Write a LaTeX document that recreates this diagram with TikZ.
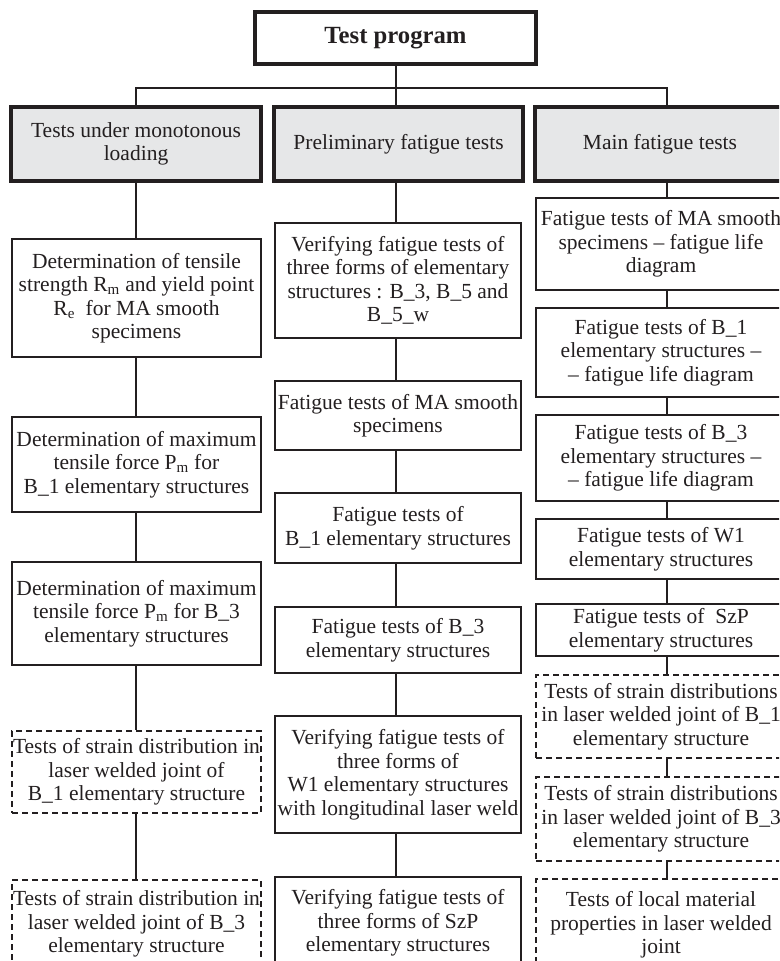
\documentclass[tikz,border=0pt]{standalone}
\usepackage{fontspec}
\setmainfont{Liberation Serif}
\definecolor{ink}{HTML}{231F20}
\definecolor{headgray}{HTML}{E6E7E8}
\newcommand\mybodyfont{\fontsize{21.5}{23.5}\selectfont}
\newcommand\mytitlefont{\fontsize{24.7}{27}\selectfont\bfseries}
\begin{document}
\begin{tikzpicture}[x=1pt,y=-1pt,
  box/.style={draw=ink, text=ink, line width=1.3pt, inner sep=0pt, align=center, font=\mybodyfont},
  dbox/.style={box, dash pattern=on 6pt off 4pt},
  head/.style={box, line width=3.2pt, fill=headgray},
  titlebox/.style={head, fill=white, font=\mytitlefont},
  conn/.style={draw=ink, line width=1.3pt}]
\useasboundingbox (0,0) rectangle (779,961);
\fill[white] (0,0) rectangle (779,961);
\clip (0,0) rectangle (779,961);

% column connector abscissas
\coordinate (xa) at (136,0);
\coordinate (xb) at (396,0);
\coordinate (xc) at (667,0);
\coordinate (bus) at (0,88);

\node[titlebox, minimum width=281pt, minimum height=52pt] (title) at (395.5,38) {Test program};

\node[head, minimum width=250pt, minimum height=74pt] (H1) at (136,144) {Tests under monotonous\\ loading};
\node[head, minimum width=249pt, minimum height=74pt] (H2) at (398.5,144) {Preliminary fatigue tests};
\node[head, minimum width=250pt, minimum height=74pt] (H3) at (660,144) {Main fatigue tests};

% column 1
\node[box, minimum width=249pt, minimum height=118pt] (A1) at (136.5,298) {Determination of tensile\\ strength R\textsubscript{m} and yield point\\ R\textsubscript{e}\ \ for MA smooth\\ specimens};
\node[box, minimum width=249pt, minimum height=95pt] (A2) at (136.5,464.5) {Determination of maximum\\ tensile force P\textsubscript{m} for\\ B\_1 elementary structures};
\node[box, minimum width=249pt, minimum height=103pt] (A3) at (136.5,613.5) {Determination of maximum\\ tensile force P\textsubscript{m} for B\_3\\ elementary structures};
\node[dbox, minimum width=249pt, minimum height=82pt] (A4) at (136.5,772) {Tests of strain distribution in\\ laser welded joint of\\ B\_1 elementary structure};
\node[dbox, minimum width=249pt, minimum height=88pt] (A5) at (136.5,924) {Tests of strain distribution in\\ laser welded joint of B\_3\\ elementary structure};

% column 2
\node[box, minimum width=246pt, minimum height=115pt] (B1) at (398,280.5) {Verifying fatigue tests of\\ three forms of elementary\\ structures : B\_3, B\_5 and\\ B\_5\_w};
\node[box, minimum width=246pt, minimum height=69pt] (B2) at (398,415.5) {Fatigue tests of MA smooth\\ specimens};
\node[box, minimum width=246pt, minimum height=70pt] (B3) at (398,528) {Fatigue tests of\\ B\_1 elementary structures};
\node[box, minimum width=246pt, minimum height=66pt] (B4) at (398,640) {Fatigue tests of B\_3\\ elementary structures};
\node[box, minimum width=246pt, minimum height=117pt] (B5) at (398,774.5) {Verifying fatigue tests of\\ three forms of\\ W1 elementary structures\\ with longitudinal laser weld};
\node[box, minimum width=246pt, minimum height=92pt] (B6) at (398,923) {Verifying fatigue tests of\\ three forms of SzP\\ elementary structures};

% column 3
\node[box, minimum width=250pt, minimum height=92pt] (C1) at (661,244) {Fatigue tests of MA smooth\\ specimens \textendash{} fatigue life\\ diagram};
\node[box, minimum width=250pt, minimum height=89pt] (C2) at (661,352.5) {Fatigue tests of B\_1\\ elementary structures \textendash\\ \textendash{} fatigue life diagram};
\node[box, minimum width=250pt, minimum height=86pt] (C3) at (661,458) {Fatigue tests of B\_3\\ elementary structures \textendash\\ \textendash{} fatigue life diagram};
\node[box, minimum width=250pt, minimum height=60pt] (C4) at (661,549) {Fatigue tests of W1\\ elementary structures};
\node[box, minimum width=250pt, minimum height=52pt] (C5) at (661,630) {Fatigue tests of\ \ SzP\\ elementary structures};
\node[dbox, minimum width=250pt, minimum height=83pt] (C6) at (661,716.5) {Tests of strain distributions\\ in laser welded joint of B\_1\\ elementary structure};
\node[dbox, minimum width=250pt, minimum height=84pt] (C7) at (661,819) {Tests of strain distributions\\ in laser welded joint of B\_3\\ elementary structure};
\node[dbox, minimum width=250pt, minimum height=92pt] (C8) at (661,925) {Tests of local material\\ properties in laser welded\\ joint};

% top tree
\draw[conn] (title.south -| xb) -- (H2.north -| xb);
\draw[conn] (H1.north -| xa) -- (xa |- bus) -- (xc |- bus) -- (H3.north -| xc);

% column 1 chain
\draw[conn] (H1.south -| xa) -- (A1.north -| xa);
\draw[conn] (A1.south -| xa) -- (A2.north -| xa);
\draw[conn] (A2.south -| xa) -- (A3.north -| xa);
\draw[conn] (A3.south -| xa) -- (A4.north -| xa);
\draw[conn] (A4.south -| xa) -- (A5.north -| xa);

% column 2 chain
\draw[conn] (H2.south -| xb) -- (B1.north -| xb);
\draw[conn] (B1.south -| xb) -- (B2.north -| xb);
\draw[conn] (B2.south -| xb) -- (B3.north -| xb);
\draw[conn] (B3.south -| xb) -- (B4.north -| xb);
\draw[conn] (B4.south -| xb) -- (B5.north -| xb);
\draw[conn] (B5.south -| xb) -- (B6.north -| xb);

% column 3 chain
\draw[conn] (H3.south -| xc) -- (C1.north -| xc);
\draw[conn] (C1.south -| xc) -- (C2.north -| xc);
\draw[conn] (C2.south -| xc) -- (C3.north -| xc);
\draw[conn] (C3.south -| xc) -- (C4.north -| xc);
\draw[conn] (C4.south -| xc) -- (C5.north -| xc);
\draw[conn] (C5.south -| xc) -- (C6.north -| xc);
\draw[conn] (C6.south -| xc) -- (C7.north -| xc);
\draw[conn] (C7.south -| xc) -- (C8.north -| xc);
\end{tikzpicture}
\end{document}
